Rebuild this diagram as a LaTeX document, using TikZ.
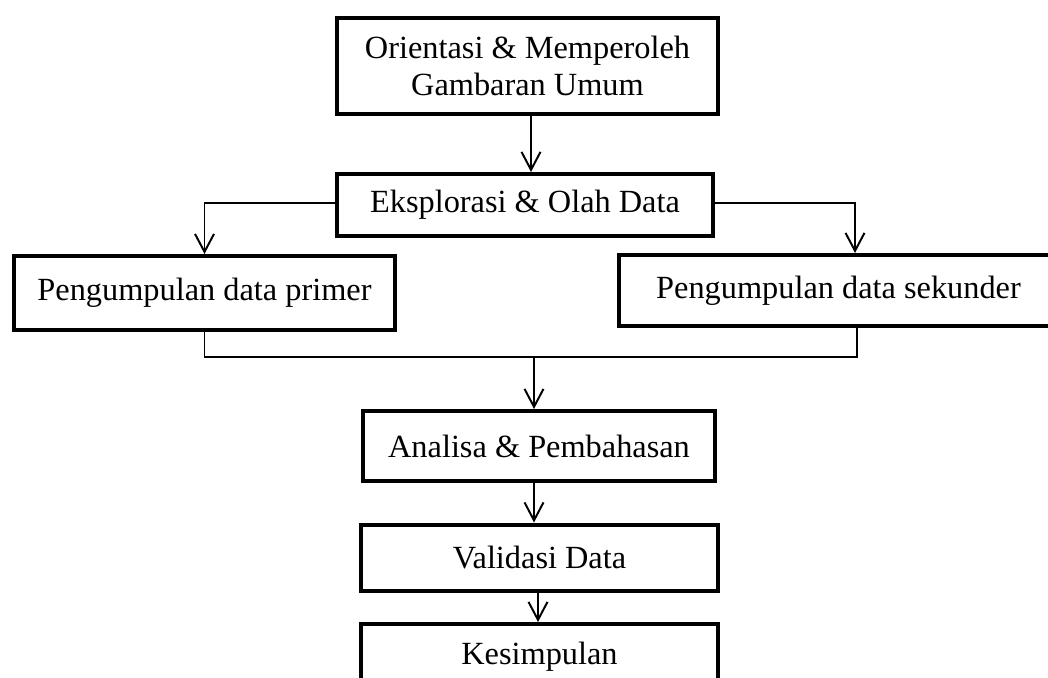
\documentclass[tikz,border=0pt]{standalone}
\usepackage{fontspec}
\setmainfont{Liberation Serif}
\usepackage{tikz}
\usetikzlibrary{positioning,calc}
\usetikzlibrary{arrows.meta}

\begin{document}
\begin{tikzpicture}[x=0.25mm, y=-0.25mm,
    box/.style={draw, line width=2.85pt, inner sep=0, align=center,
                font=\fontsize{23}{26.3}\selectfont},
    conn/.style={line width=1.4pt},
    arr/.style={conn, -{Straight Barb[length=12.8pt, width=13.5pt]}}]

  % Unit of one pixel
  \def\u{0.25mm}

  % Page
  \clip (0, 0) rectangle (1048, 678);

  % Boxes
  \node[box, minimum width=381*\u, minimum height=96*\u] (orient) at (527.5, 66) {Orientasi \& Memperoleh\\Gambaran Umum};
  \node[box, minimum width=376*\u, minimum height=62*\u] (eksplor) at (525, 205) {Eksplorasi \& Olah Data};
  \node[box, minimum width=381*\u, minimum height=74*\u] (primer) at (204.5, 293) {Pengumpulan data primer};
  \node[box, minimum width=439*\u, minimum height=71*\u] (sekunder) at (838.5, 290.5) {Pengumpulan data sekunder};
  \node[box, minimum width=352*\u, minimum height=70*\u] (analisa) at (539, 446) {Analisa \& Pembahasan};
  \node[box, minimum width=357*\u, minimum height=66*\u] (validasi) at (539.5, 557.5) {Validasi Data};
  \node[box, minimum width=357*\u, minimum height=66*\u] (kesimpulan) at (539.5, 657) {Kesimpulan};

  % Split
  \draw[arr] ($(orient.south)+(3.5, 0)$) -- ($(orient.south |- eksplor.north)+(3.5, 0)$);
  \draw[arr] ($(eksplor.west)+(0, -2)$) -| (primer.north);
  \draw[arr] ($(eksplor.east)+(0, -2)$) -| ($(sekunder.north)+(16.5, 0)$);

  % Merge
  \coordinate (merge) at (534, 357);
  \draw[conn] (primer.south) |- (merge) -| ($(sekunder.south)+(18.5, 0)$);
  \draw[arr] (merge) -- (merge |- analisa.north);

  % Chain
  \draw[arr] ($(analisa.south)+(-5, 0)$) -- ($(analisa.south |- validasi.north)+(-5, 0)$);
  \draw[arr] ($(validasi.south)+(-1.5, 0)$) -- ($(validasi.south |- kesimpulan.north)+(-1.5, 0)$);

\end{tikzpicture}
\end{document}
